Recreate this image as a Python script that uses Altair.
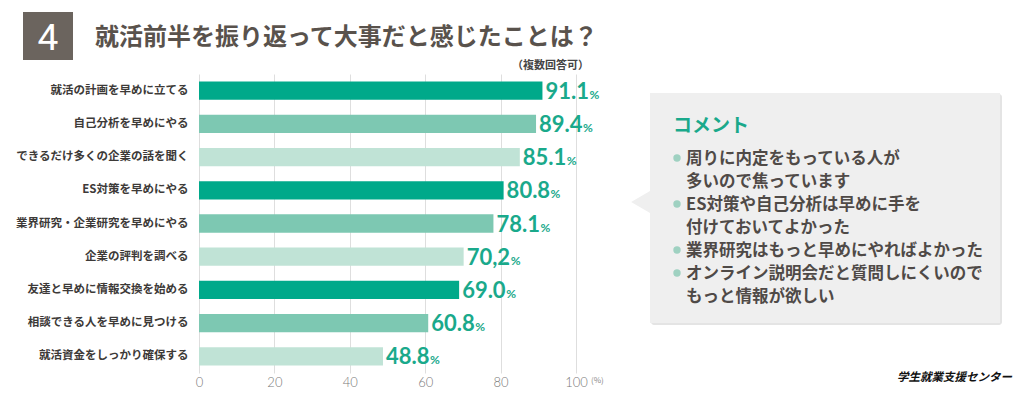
import altair as alt
import pandas as pd

# ---------------- data ----------------
categories = [
    "就活の計画を早めに立てる",
    "自己分析を早めにやる",
    "できるだけ多くの企業の話を聞く",
    "ES対策を早めにやる",
    "業界研究・企業研究を早めにやる",
    "企業の評判を調べる",
    "友達と早めに情報交換を始める",
    "相談できる人を早めに見つける",
    "就活資金をしっかり確保する",
]
values = [91.1, 89.4, 85.1, 80.8, 78.1, 70.2, 69.0, 60.8, 48.8]
value_labels = ["91.1", "89.4", "85.1", "80.8", "78.1", "70,2", "69.0", "60.8", "48.8"]
tones = ["dark", "medium", "light", "dark", "medium", "light", "dark", "medium", "light"]
x_ticks = [0, 20, 40, 60, 80, 100]

number_text = "4"
title_text = "就活前半を振り返って大事だと感じたことは？"
note_text = "（複数回答可）"
unit_text = "(%)"
comment_title = "コメント"
comments = [
    ["周りに内定をもっている人が", "多いので焦っています"],
    ["ES対策や自己分析は早めに手を", "付けておいてよかった"],
    ["業界研究はもっと早めにやればよかった"],
    ["オンライン説明会だと質問しにくいので", "もっと情報が欲しい"],
]
source_text = "学生就業支援センター"

# ---------------- chart ----------------
JP = "Noto Sans CJK JP"
W, H = 377, 299
TEAL = "#1aa98b"
LINE_H = 23
TEXT_Y0 = 90

df = pd.DataFrame({"cat": categories, "val": values, "lab": value_labels, "tone": tones})
one = pd.DataFrame({"k": [0]})

x_enc = alt.X(
    "val:Q",
    scale=alt.Scale(domain=[0, 100], nice=False),
    axis=alt.Axis(
        values=x_ticks, title=None, ticks=False, domain=False, grid=True,
        gridColor="#dedede", gridWidth=1, labelFont="Lato", labelFontSize=13,
        labelColor="#7a7a7a", labelFontWeight=300, labelPadding=3,
        labelFlush=False, labelOverlap=False,
    ),
)
y_enc = alt.Y(
    "cat:N", sort=categories,
    scale=alt.Scale(paddingInner=0.45, paddingOuter=0.225),
    axis=alt.Axis(
        title=None, ticks=False, domain=False, grid=False, labelFont=JP,
        labelFontSize=11.5, labelFontWeight="bold", labelColor="#3d3a38",
        labelPadding=11,
    ),
)

base = alt.Chart(df)
bars = base.mark_bar().encode(
    x=x_enc, y=y_enc,
    color=alt.Color("tone:N", scale=alt.Scale(domain=["dark", "medium", "light"],
                    range=["#00a98a", "#7dc8b2", "#c0e3d6"]), legend=None),
)
nums = base.mark_text(align="left", baseline="alphabetic", dx=3, dy=8, font="Lato",
                      fontSize=22, fontWeight="bold", color=TEAL).encode(
    x=x_enc, y=y_enc, text="lab:N")
pct = base.mark_text(align="left", baseline="alphabetic", dx=47, dy=8, font="Lato",
                     fontSize=12, fontWeight="bold", color=TEAL).encode(
    x=x_enc, y=y_enc, text=alt.value("%"))

deco = alt.Chart(one)

num_box = deco.mark_rect(color="#6b645e").encode(
    x=alt.value(-176), x2=alt.value(-126), y=alt.value(-62), y2=alt.value(-14))
num_txt = deco.mark_text(font="Roboto", fontSize=37, color="white", align="center",
                         baseline="alphabetic", text=number_text).encode(
    x=alt.value(-151), y=alt.value(-24))
title = deco.mark_text(font=JP, fontSize=24, fontWeight="bold", color="#59524c",
                       align="left", baseline="middle", text=title_text).encode(
    x=alt.value(-104), y=alt.value(-36))
note = deco.mark_text(font=JP, fontSize=11, fontWeight="bold", color="#444",
                      align="right", baseline="middle", text=note_text).encode(
    x=alt.value(390), y=alt.value(-8))
unit = deco.mark_text(font=JP, fontSize=8, color="#888", align="left",
                      baseline="middle", text=unit_text).encode(
    x=alt.value(392), y=alt.value(307))

shadow = deco.mark_rect(color="#e4e4e4", cornerRadius=3).encode(
    x=alt.value(452), x2=alt.value(803), y=alt.value(20), y2=alt.value(251))
box = deco.mark_rect(color="#efefef").encode(
    x=alt.value(451), x2=alt.value(801), y=alt.value(19), y2=alt.value(249))
tri = deco.mark_point(shape="triangle-left", size=520, filled=True, color="#efefef",
                      opacity=1).encode(x=alt.value(442), y=alt.value(128))
ctitle = deco.mark_text(font=JP, fontSize=19, fontWeight="bold", color=TEAL,
                        align="left", baseline="middle", text=comment_title).encode(
    x=alt.value(474), y=alt.value(52))

comment_layers = []
line_idx = 0
for item in comments:
    comment_layers.append(
        deco.mark_circle(size=55, color="#9fd1c1", opacity=1).encode(
            x=alt.value(478), y=alt.value(TEXT_Y0 + line_idx * LINE_H - 6))
    )
    comment_layers.append(
        deco.mark_text(font=JP, fontSize=16.5, fontWeight="bold", color="#4f4a47",
                       align="left", baseline="alphabetic", lineHeight=LINE_H,
                       text=item).encode(
            x=alt.value(487), y=alt.value(TEXT_Y0 + line_idx * LINE_H))
    )
    line_idx += len(item)

source = deco.mark_text(font=JP, fontSize=11.5, fontWeight="bold", fontStyle="italic",
                        color="#111", align="right", baseline="middle",
                        text=source_text).encode(x=alt.value(813), y=alt.value(304))

chart = alt.layer(
    shadow, box, tri, bars, nums, pct, num_box, num_txt, title, note, unit,
    ctitle, *comment_layers, source,
).properties(
    width=W, height=H,
    autosize=alt.AutoSizeParams(type="none"),
    padding={"left": 191, "top": 66, "right": 441, "bottom": 15},
    background="white",
).configure_view(stroke=None)

chart.save("out.html", embed_options={"renderer": "svg", "actions": False})
